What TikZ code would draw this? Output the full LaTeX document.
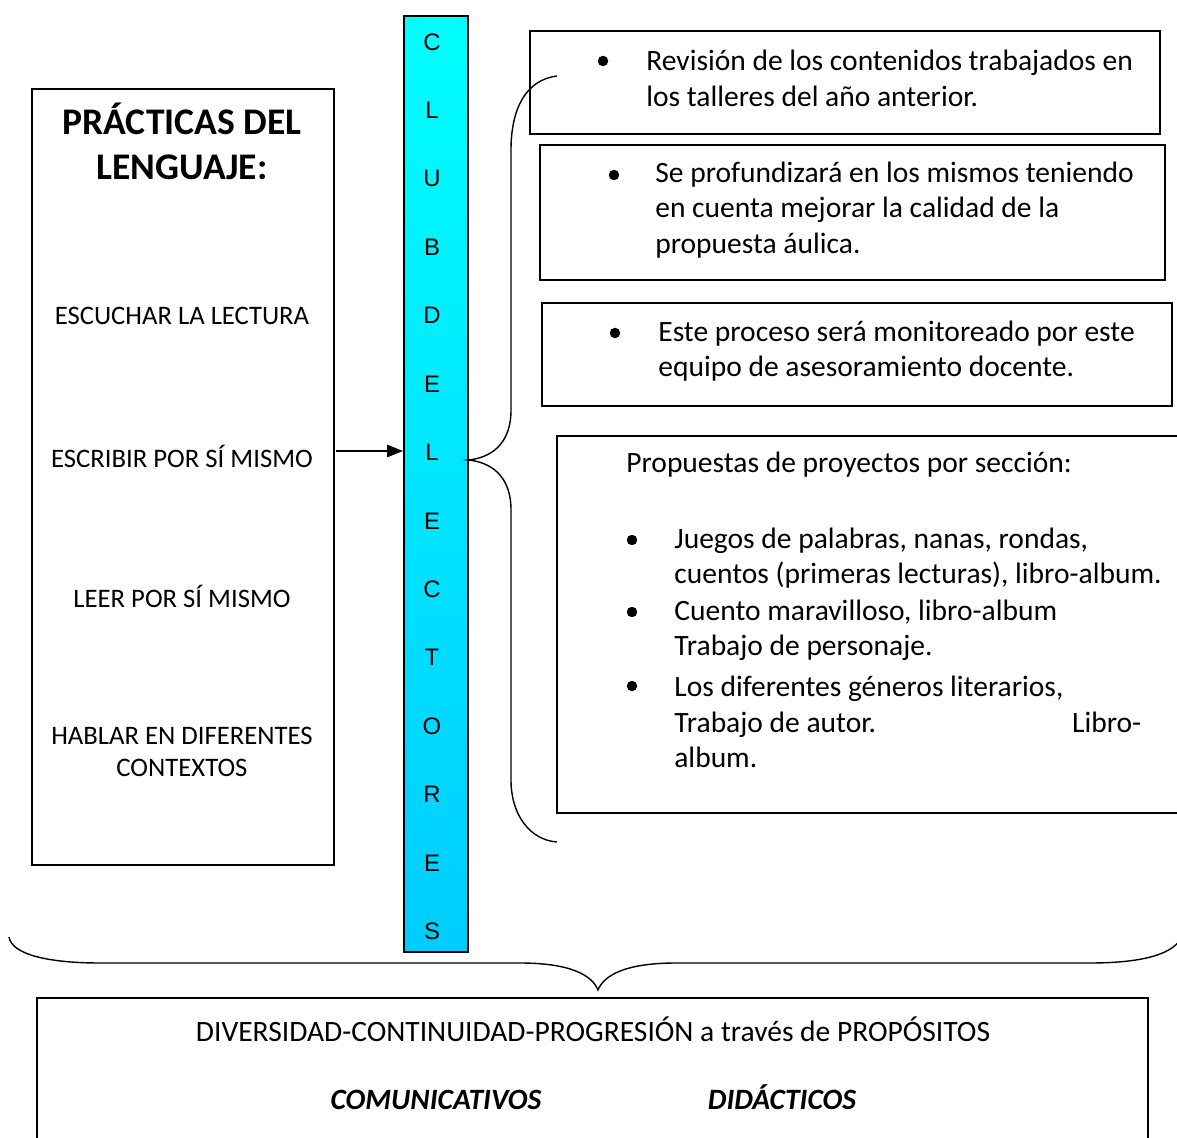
\documentclass[tikz,border=0pt]{standalone}
\usepackage{fontspec}
\setmainfont{Carlito}
\newfontfamily\barfont{Liberation Sans}
\usetikzlibrary{calc,positioning,arrows.meta}

\begin{document}
\begin{tikzpicture}[x=0.02cm, y=-0.02cm, font=\fontsize{16.8}{20.1}\selectfont]

    \def\linethick{1pt}
    \def\bracethick{0.8pt}

    \tikzset{
        caja/.style={draw, line width=\linethick, inner sep=0pt, anchor=north west},
        texto/.style={inner sep=0pt, anchor=west, align=left},
        punto/.style={circle, fill=black, inner sep=0pt, minimum size=0.21cm},
        practica/.style={inner sep=0pt, align=center, font=\fontsize{15.2}{18.2}\selectfont},
        elegida/.style={inner sep=0pt, anchor=base, font=\fontsize{16.8}{20.1}\selectfont\bfseries\itshape},
    }

    \useasboundingbox (0,0) rectangle (1177,1138);

    % left box
    \node[caja, minimum width=6.04cm, minimum height=15.52cm] (practicas) at (31,88) {};
    \node[inner sep=0pt, align=center, font=\fontsize{21.4}{25.5}\selectfont\bfseries] (titulo) at (182,141) {PRÁCTICAS DEL\\LENGUAJE:};
    \node[practica] (escuchar) at (182,316) {ESCUCHAR LA LECTURA};
    \node[practica] (escribir) at (182,456) {ESCRIBIR POR SÍ MISMO};
    \node[practica] (leer) at (182,596) {LEER POR SÍ MISMO};
    \node[practica] (hablar) at (182,752) {HABLAR EN DIFERENTES\\CONTEXTOS};

    % vertical bar
    \node[caja, top color=cyan!100, bottom color={rgb,255:red,0;green,204;blue,255}, minimum width=1.28cm, minimum height=18.72cm] (club) at (403,15) {};
    \foreach \l [count=\i from 0] in {C,L,U,B,D,E,L,E,C,T,O,R,E,S}
        \node[inner sep=0pt, font=\barfont\fontsize{13.6}{16}\selectfont] (letra\i) at (432, 42+68.4*\i) {\l};

    % arrow
    \coordinate (flecha) at (336,451);
    \draw[line width=0.8pt, -{Triangle[length=9pt, width=7pt]}] (flecha) -- (club.west |- flecha);

    % right brace
    \coordinate (punta) at (468,460);
    \draw[line width=\bracethick] (557,76) .. controls (525,80) and (511,110) .. (511,150) -- (511,410)
        .. controls (511,445) and (490,458) .. (punta)
        .. controls (490,462) and (511,475) .. (511,510) -- (511,780)
        .. controls (511,815) and (530,840) .. (557,842);

    % boxes on the right
    \node[caja, minimum width=12.6cm, minimum height=2.06cm] (caja1) at (529,30) {};
    \node[punto] (b1) at (603,61) {};
    \node[texto] (revision) at (646,78.5) {Revisión de los contenidos trabajados en\\los talleres del año anterior.};

    \node[caja, minimum width=12.5cm, minimum height=2.7cm] (caja2) at (539,144) {};
    \node[punto] (b2) at (614,175) {};
    \node[texto] (profundizar) at (655,210) {Se profundizará en los mismos teniendo\\en cuenta mejorar la calidad de la\\propuesta áulica.};

    \node[caja, minimum width=12.6cm, minimum height=2.06cm] (caja3) at (541,302) {};
    \node[punto] (b3) at (615,333) {};
    \node[texto] (proceso) at (658,351) {Este proceso será monitoreado por este\\equipo de asesoramiento docente.};

    \draw[line width=\linethick] (1180,436) -- (557,436) -- (557,813) -- (1180,813);
    \node[texto] (propuestas) at (626,465) {Propuestas de proyectos por sección:};
    \node[punto] (b4) at (632,540) {};
    \node[texto] (juegos) at (674,558) {Juegos de palabras, nanas, rondas,\\cuentos (primeras lecturas), libro-album.};
    \node[punto] (b5) at (632,612) {};
    \node[texto] (cuento) at (674,630) {Cuento maravilloso, libro-album\\Trabajo de personaje.};
    \node[punto] (b6) at (632,686) {};
    \node[texto] (generos) at (674,722) {Los diferentes géneros literarios,\\\makebox[9.34cm][l]{Trabajo de autor.\hfill Libro-}\\album.};

    % bottom brace
    \coordinate (punta2) at (598,990);
    \draw[line width=\bracethick] (9,937) .. controls (12,955) and (50,963) .. (100,963) -- (520,963)
        .. controls (570,963) and (592,975) .. (punta2)
        .. controls (604,975) and (626,963) .. (676,963) -- (1090,963)
        .. controls (1140,963) and (1170,955) .. (1180,940);

    % bottom box
    \draw[line width=\linethick] (37,1145) -- (37,998) -- (1148,998) -- (1148,1145);
    \node[inner sep=0pt] (diversidad) at (593,1029) {DIVERSIDAD-CONTINUIDAD-PROGRESIÓN a través de PROPÓSITOS};
    \node[elegida] (comunicativos) at (436,1109) {COMUNICATIVOS};
    \node[elegida] (didacticos) at (782,1109) {DIDÁCTICOS};

\end{tikzpicture}
\end{document}
